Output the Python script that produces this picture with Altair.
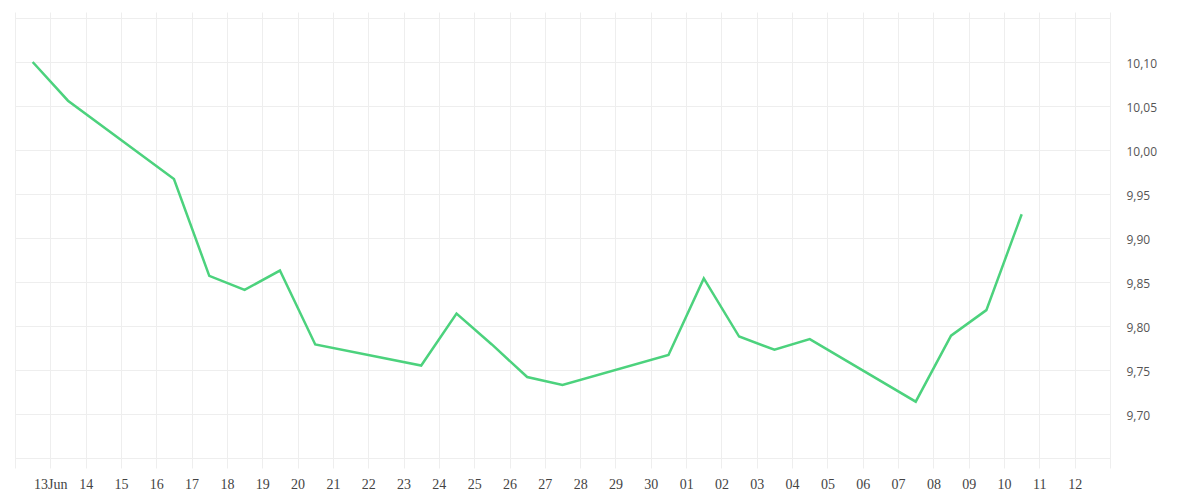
import altair as alt
import pandas as pd

# Observations (weekdays, plotted at noon of each day)
dates = [
    "2025-06-12", "2025-06-13", "2025-06-16", "2025-06-17", "2025-06-18",
    "2025-06-19", "2025-06-20", "2025-06-23", "2025-06-24", "2025-06-25",
    "2025-06-26", "2025-06-27", "2025-06-30", "2025-07-01", "2025-07-02",
    "2025-07-03", "2025-07-04", "2025-07-07", "2025-07-08", "2025-07-09",
    "2025-07-10",
]
values = [
    10.100, 10.056, 9.967, 9.857, 9.841,
    9.863, 9.779, 9.755, 9.814, 9.779,
    9.742, 9.733, 9.767, 9.854, 9.788,
    9.773, 9.785, 9.714, 9.789, 9.818,
    9.927,
]

# Axis tick values
y_ticks = [9.65, 9.70, 9.75, 9.80, 9.85, 9.90, 9.95, 10.00, 10.05, 10.10, 10.15]
tick_days = pd.date_range("2025-06-12", "2025-07-13", freq="D")

df = pd.DataFrame({"date": [d + "T12:00:00" for d in dates], "value": values})

x_values = [alt.DateTime(year=d.year, month=d.month, date=d.day) for d in tick_days]

grid_color = "#eeeeee"

x_label_expr = (
    "(month(datum.value)==5 && date(datum.value)==12) || "
    "(month(datum.value)==6 && date(datum.value)==13) ? '' : "
    "(month(datum.value)==5 && date(datum.value)==13 ? '13Jun' : timeFormat(datum.value, '%d'))"
)
y_label_expr = (
    "datum.value < 9.675 || datum.value > 10.125 ? '' : "
    "replace(format(datum.value, '.2f'), '.', ',')"
)

chart = (
    alt.Chart(df)
    .mark_line(color="#4cd27d", strokeWidth=2.5)
    .encode(
        x=alt.X(
            "date:T",
            scale=alt.Scale(
                domain=[
                    alt.DateTime(year=2025, month=6, date=12),
                    alt.DateTime(year=2025, month=7, date=13),
                ],
                nice=False,
            ),
            axis=alt.Axis(
                title=None,
                values=x_values,
                labelExpr=x_label_expr,
                domain=False,
                ticks=False,
                grid=True,
                gridColor=grid_color,
                gridWidth=1,
                labelPadding=9,
                labelFont="Liberation Serif",
                labelFontSize=14,
                labelColor="#444444",
                labelOverlap=False,
                labelFlush=False,
            ),
        ),
        y=alt.Y(
            "value:Q",
            scale=alt.Scale(domain=[9.6386, 10.1568], nice=False, zero=False),
            axis=alt.Axis(
                title=None,
                orient="right",
                values=y_ticks,
                labelExpr=y_label_expr,
                domain=False,
                ticks=False,
                grid=True,
                gridColor=grid_color,
                gridWidth=1,
                labelPadding=16,
                labelOffset=2,
                labelFont="Open Sans",
                labelFontSize=12,
                labelColor="#555555",
                labelOverlap=False,
            ),
        ),
    )
    .properties(
        width=1095,
        height=456,
        padding={"left": 7, "top": 4, "right": 10, "bottom": 5},
    )
    .configure_view(stroke=None)
)

chart.save("out.html", embed_options={"renderer": "svg", "actions": False})
